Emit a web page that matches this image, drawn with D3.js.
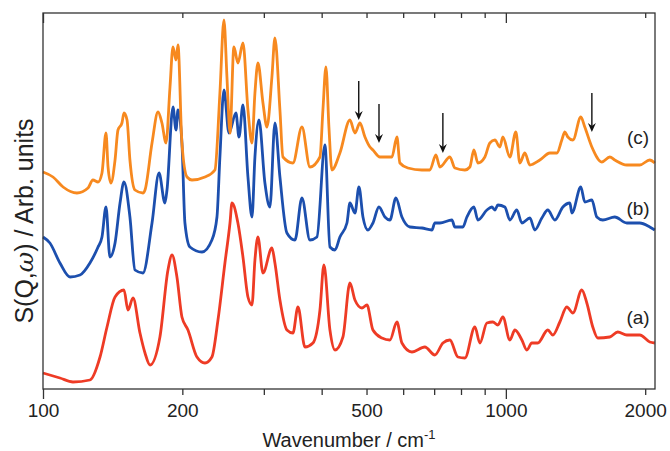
<!DOCTYPE html>
<html><head><meta charset="utf-8">
<script src="https://cdn.jsdelivr.net/npm/d3@7"></script>
<style>
html,body{margin:0;padding:0;background:#fff;}
text{font-family:"Liberation Sans",Arial,sans-serif;fill:#222;}
</style></head>
<body><svg id="c" width="670" height="451"></svg>
<script>
// wavenumber (cm^-1) and intensity (arb. units, offsets included)
const wnC = [100,105.1,110.5,118.4,125.1,128.2,131.5,134.1,136.8,138.2,140.2,143.1,145.2,148.1,149.6,151.9,154.1,158.0,164.4,166.1,172.0,177.2,180.7,184.4,188.1,190.9,193.8,195.7,199.6,204.7,209.8,223.8,235.2,241.1,246.0,249.7,253.5,258.5,263.7,270.4,277.2,282.8,287.0,291.3,298.7,304.7,312.3,317.0,325.0,329.9,346.7,362.6,377.3,396.6,402.5,408.6,414.7,420.9,438.0,460.4,472.0,483.9,496.1,508.6,516.2,534.5,553.4,567.3,581.6,590.3,614.3,658.5,685.2,706.0,720.2,757.0,776.1,815.7,836.1,852.9,870.1,900.9,923.5,946.8,970.6,985.2,1020,1051,1072,1099,1127,1184,1245,1289,1321,1341,1361,1396,1452,1481,1534,1612,1677,1719,1825,1947,2046,2098];
const vC = [217,212,202,196,201,209,207,216,256,222,206,229,259,266,276,269,229,199,196,199,246,277,266,246,302,342,329,344,246,212,209,212,219,296,369,312,256,342,326,346,279,246,296,326,286,262,312,351,279,232,226,262,222,232,279,322,262,219,236,269,256,266,252,242,239,232,232,232,252,226,221,219,219,234,222,232,221,219,222,239,226,232,246,249,242,252,232,257,226,236,224,229,236,236,249,257,252,249,272,262,242,227,232,229,224,224,229,226];

const wnB = [100,103.5,108.8,114.4,120.2,126.3,131.5,134.1,136.8,139.5,143.1,146.7,149.6,154.1,158.0,164.4,172.0,178.1,183.4,185.3,190.9,193.8,195.7,199.6,202.6,207.7,220.5,231.7,237.6,241.1,246.0,252.2,261.1,265.1,270.4,277.2,282.8,287.0,292.8,301.6,309.2,317.0,325.0,336.5,350.2,362.6,377.3,390.7,406.5,416.8,427.3,438.0,453.6,460.4,472.0,481.5,491.2,503.5,516.2,531.8,547.9,561.7,578.7,596.3,620.5,658.5,692.1,702.5,720.2,764.6,776.1,807.6,823.8,852.9,870.1,909.9,932.7,946.8,961.0,995.0,1020,1056,1083,1127,1155,1196,1232,1276,1328,1375,1389,1452,1481,1534,1572,1620,1719,1825,1947,2046,2098];
const vB = [152,146,126,112,114,126,142,152,182,132,146,186,207,172,119,116,166,216,186,199,282,259,279,246,166,142,137,149,172,232,299,256,276,252,284,212,172,232,269,206,182,266,212,156,149,191,149,152,244,142,139,152,166,186,176,202,172,159,166,182,172,169,191,172,162,161,159,166,166,169,162,162,172,182,169,179,182,179,184,182,169,179,166,171,159,171,179,169,182,186,176,202,187,189,172,169,172,166,166,162,159];

const wnA = [100,108.8,116.1,126.3,132.8,137.5,143.1,149.6,152.6,156.5,162.0,166.1,170.3,178.9,186.2,190.0,194.7,199.6,205.7,215.1,223.8,231.7,238.8,247.2,253.5,256.0,263.7,270.4,277.2,282.8,287.0,291.3,298.7,312.3,317.0,325.0,336.5,346.7,355.5,368.1,383.0,396.6,404.5,416.8,427.3,444.6,460.4,472.0,488.7,501.0,516.2,539.8,561.7,581.6,596.3,626.7,668.3,702.5,731.1,757.0,787.8,815.7,857.2,878.8,909.9,937.4,961.0,985.2,1020,1046,1083,1110,1138,1172,1232,1263,1308,1354,1396,1459,1496,1541,1580,1677,1745,1825,1947,2046,2098];
const vA = [16,11,7,9,32,62,92,99,79,91,56,36,24,52,119,134,112,72,59,32,26,32,69,126,166,186,166,132,92,84,129,152,116,141,126,89,59,56,82,42,46,79,124,59,39,52,106,89,81,84,59,51,49,67,46,37,42,34,46,49,32,31,62,46,66,67,64,72,49,59,49,39,46,46,59,54,67,82,76,99,86,62,51,52,57,54,54,47,46];

const seriesNames = ["(a)","(b)","(c)"];
const seriesLabelWn = [1930,1930,1930];
const seriesLabelV = [72,181,252];

// arrows on spectrum (c): wavenumber, start and end intensity
const arrowWn = [481,532,731,1534];
const arrowV0 = [308,285,276,296];
const arrowV1 = [269,246,236,257];

const xTicks = [100,200,300,400,500,600,700,800,900,1000,2000];
const xTickLabels = [100,200,500,1000,2000];
const xMajor = [100,1000];

const W=670,H=451, L=43,R=655,T=13,B=389;
const svg=d3.select("#c");
const x=d3.scaleLog().domain([100,2100]).range([L,R]);
const y=d3.scaleLinear().domain([0,376]).range([B,T]);

const colors=["#ee3b25","#1c4fae","#f7891f"];
const data=[[wnA,vA],[wnB,vB],[wnC,vC]];
const line=d3.line().x(d=>x(d[0])).y(d=>y(d[1])).curve(d3.curveMonotoneX);
data.forEach((s,i)=>{
  const pts=s[0].map((w,j)=>[w,s[1][j]]);
  svg.append("path").attr("d",line(pts)).attr("fill","none")
    .attr("stroke",colors[i]).attr("stroke-width",2.8).attr("stroke-linejoin","round");
});

// frame
svg.append("rect").attr("x",L).attr("y",T).attr("width",R-L).attr("height",B-T)
  .attr("fill","none").attr("stroke","#333").attr("stroke-width",1.3);

// bottom axis
const ax=svg.append("g").attr("transform",`translate(0,${B})`)
  .call(d3.axisBottom(x).tickValues(xTicks).tickFormat(d=>xTickLabels.includes(d)?d:"").tickSizeOuter(0));
ax.select(".domain").remove();
ax.selectAll(".tick line").attr("stroke","#333").attr("stroke-width",1.3)
  .attr("y2",d=>xMajor.includes(d)?10:6);
ax.selectAll(".tick text").attr("y",15).attr("dy","0.71em")
  .style("font-size","19px").style("font-family","'Liberation Sans',Arial,sans-serif").attr("fill","#222");

// top ticks inward
const at=svg.append("g").attr("transform",`translate(0,${T})`)
  .call(d3.axisTop(x).tickValues(xTicks).tickFormat("").tickSizeOuter(0));
at.select(".domain").remove();
at.selectAll(".tick line").attr("stroke","#333").attr("stroke-width",1.3)
  .attr("y2",d=>xMajor.includes(d)?10:5);

// labels
svg.append("text").attr("x",(L+R)/2).attr("y",447).attr("text-anchor","middle")
  .style("font-size","20px").html('Wavenumber / cm<tspan dy="-8" font-size="13px">-1</tspan>');
svg.append("text").attr("transform",`translate(33,221) rotate(-90)`).attr("text-anchor","middle")
  .style("font-size","25px").html('S(Q,<tspan font-family="DejaVu Serif" font-style="italic">ω</tspan>) / Arb. units');

seriesNames.forEach((n,i)=>{
  svg.append("text").attr("x",x(seriesLabelWn[i])).attr("y",y(seriesLabelV[i])).attr("dy","0.35em")
    .attr("text-anchor","middle").style("font-size","19px").text(n);
});

// arrows
arrowWn.forEach((w,i)=>{
  svg.append("line").attr("x1",x(w)).attr("x2",x(w)).attr("y1",y(arrowV0[i])).attr("y2",y(arrowV1[i])-3)
    .attr("stroke","#111").attr("stroke-width",1.4);
  svg.append("path").attr("d",`M${x(w)-4},${y(arrowV1[i])-9} L${x(w)},${y(arrowV1[i])-6} L${x(w)+4},${y(arrowV1[i])-9} L${x(w)},${y(arrowV1[i])} Z`).attr("fill","#111");
});
</script></body></html>
